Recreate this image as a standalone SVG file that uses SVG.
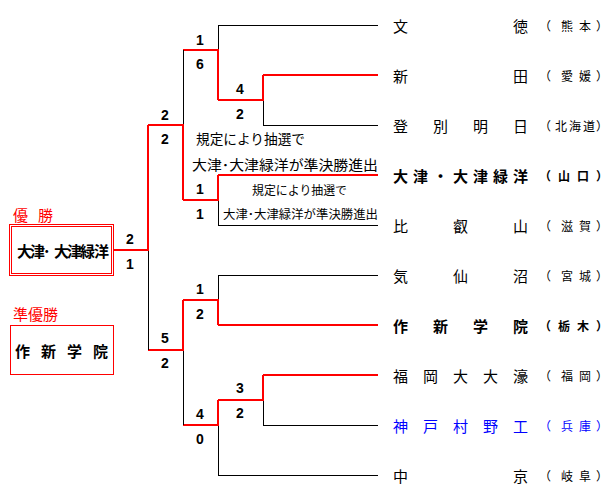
<svg xmlns="http://www.w3.org/2000/svg" width="616" height="501" viewBox="0 0 616 501">
<style>
.bk{stroke:#000;stroke-width:1;fill:none}
.rd{stroke:#ff0000;stroke-width:2;fill:none}
.sc{font-family:"Liberation Sans",Arial,sans-serif;font-weight:bold;font-size:14px;text-anchor:middle;dominant-baseline:central;fill:#000}
.nm{font-family:"Noto Sans CJK JP","Noto Sans CJK SC",sans-serif;font-size:15px;dominant-baseline:central;fill:#000}
.pf{font-family:"Noto Sans CJK JP","Noto Sans CJK SC",sans-serif;font-size:12px;dominant-baseline:central;fill:#000}
.b{font-weight:bold}
.blue{fill:#0000ff}
.red{fill:#ff0000}
.note{font-family:"Noto Sans CJK JP","Noto Sans CJK SC",sans-serif;dominant-baseline:central;fill:#000}
</style>
<rect width="616" height="501" fill="#fff"/>
<g id="connectors">
  <!-- team lines -->
  <path class="bk" d="M218 25.5H378"/>
  <path class="rd" d="M263 75H378"/>
  <path class="bk" d="M263 125.5H378"/>
  <path class="rd" d="M218 175H378"/>
  <path class="bk" d="M218 225.5H378"/>
  <path class="bk" d="M218 275.5H378"/>
  <path class="rd" d="M218 325H378"/>
  <path class="rd" d="M263 375H378"/>
  <path class="bk" d="M263 425.5H378"/>
  <path class="bk" d="M218 475.5H378"/>
  <!-- R1 top -->
  <path class="bk" d="M263.5 100V125.5"/>
  <path class="rd" d="M218 100H263V75"/>
  <!-- QF1 -->
  <path class="bk" d="M218.5 25V50"/>
  <path class="rd" d="M183 50H218V100"/>
  <!-- QF2 -->
  <path class="bk" d="M218.5 200V225.5"/>
  <path class="rd" d="M183 200H218V175"/>
  <!-- Semi 1 -->
  <path class="bk" d="M183.5 50V125"/>
  <path class="rd" d="M148 125H183V200"/>
  <!-- QF3 -->
  <path class="bk" d="M218.5 275V300"/>
  <path class="rd" d="M183 300H218V325"/>
  <!-- R1 bottom -->
  <path class="bk" d="M263.5 400V425.5"/>
  <path class="rd" d="M218 400H263V375"/>
  <!-- QF4 -->
  <path class="bk" d="M218.5 425V475.5"/>
  <path class="rd" d="M183 425H218V400"/>
  <!-- Semi 2 -->
  <path class="bk" d="M183.5 350V425"/>
  <path class="rd" d="M148 350H183V300"/>
  <!-- Final -->
  <path class="bk" d="M148.5 250V350"/>
  <path class="rd" d="M114 250H148V125"/>
</g>
<g id="scores">
  <text class="sc" x="130" y="239">2</text>
  <text class="sc" x="130" y="264">1</text>
  <text class="sc" x="165" y="115">2</text>
  <text class="sc" x="165" y="139">2</text>
  <text class="sc" x="165" y="338">5</text>
  <text class="sc" x="165" y="363">2</text>
  <text class="sc" x="200" y="40">1</text>
  <text class="sc" x="200" y="64">6</text>
  <text class="sc" x="200" y="189">1</text>
  <text class="sc" x="200" y="214">1</text>
  <text class="sc" x="200" y="289">1</text>
  <text class="sc" x="200" y="314">2</text>
  <text class="sc" x="200" y="414">4</text>
  <text class="sc" x="200" y="439">0</text>
  <text class="sc" x="240" y="89">4</text>
  <text class="sc" x="240" y="114">2</text>
  <text class="sc" x="240" y="388">3</text>
  <text class="sc" x="240" y="413">2</text>
</g>
<g id="notes">
  <text class="note" font-size="14" x="196" y="138" textLength="109" lengthAdjust="spacingAndGlyphs">規定により抽選で</text>
  <text class="note" font-size="14" x="192" y="164" textLength="186" lengthAdjust="spacingAndGlyphs">大津･大津緑洋が準決勝進出</text>
  <text class="note" font-size="12" x="252" y="189" textLength="95" lengthAdjust="spacingAndGlyphs">規定により抽選で</text>
  <text class="note" font-size="12" x="223" y="213" textLength="155" lengthAdjust="spacingAndGlyphs">大津･大津緑洋が準決勝進出</text>
</g>
<g id="champion">
  <text class="nm red" x="13 38" y="214">優勝</text>
  <rect x="9.5" y="224.5" width="104" height="51" fill="none" stroke="#ff0000"/>
  <rect x="11.5" y="226.5" width="100" height="47" fill="none" stroke="#ff0000"/>
  <text class="nm b" font-size="13" x="17 30 43 54 67 80 94" y="250">大津･大津緑洋</text>
</g>
<g id="runnerup">
  <text class="nm red" x="13" y="313">準優勝</text>
  <rect x="10.5" y="325.5" width="103" height="49" fill="none" stroke="#ff0000"/>
  <text class="nm b" font-size="15" x="15 41 67 93" y="350">作新学院</text>
</g>
<g id="team1"><text class="nm" x="393 513" y="25">文徳</text><text class="pf" x="539 561 579 596" y="25">（熊本）</text></g>
<g id="team2"><text class="nm" x="393 513" y="75">新田</text><text class="pf" x="539 561 579 596" y="75">（愛媛）</text></g>
<g id="team3"><text class="nm" x="393 433 473 513" y="125">登別明日</text><text class="pf" x="539 555 569 583 596" y="125">（北海道）</text></g>
<g id="team4"><text class="nm b" x="393 413 433 453 473 493 513" y="175">大津・大津緑洋</text><text class="pf b" font-size="13" x="539 558 577 596" y="175">（山口）</text></g>
<g id="team5"><text class="nm" x="393 453 513" y="225">比叡山</text><text class="pf" x="539 561 579 596" y="225">（滋賀）</text></g>
<g id="team6"><text class="nm" x="393 453 513" y="275">気仙沼</text><text class="pf" x="539 561 579 596" y="275">（宮城）</text></g>
<g id="team7"><text class="nm b" x="393 433 473 513" y="325">作新学院</text><text class="pf b" font-size="13" x="539 558 577 596" y="325">（栃木）</text></g>
<g id="team8"><text class="nm" x="393 423 453 483 513" y="375">福岡大大濠</text><text class="pf" x="539 561 579 596" y="375">（福岡）</text></g>
<g id="team9"><text class="nm blue" x="393 423 453 483 513" y="425">神戸村野工</text><text class="pf blue" x="539 561 579 596" y="425">（兵庫）</text></g>
<g id="team10"><text class="nm" x="393 513" y="475">中京</text><text class="pf" x="539 561 579 596" y="475">（岐阜）</text></g>
</svg>
